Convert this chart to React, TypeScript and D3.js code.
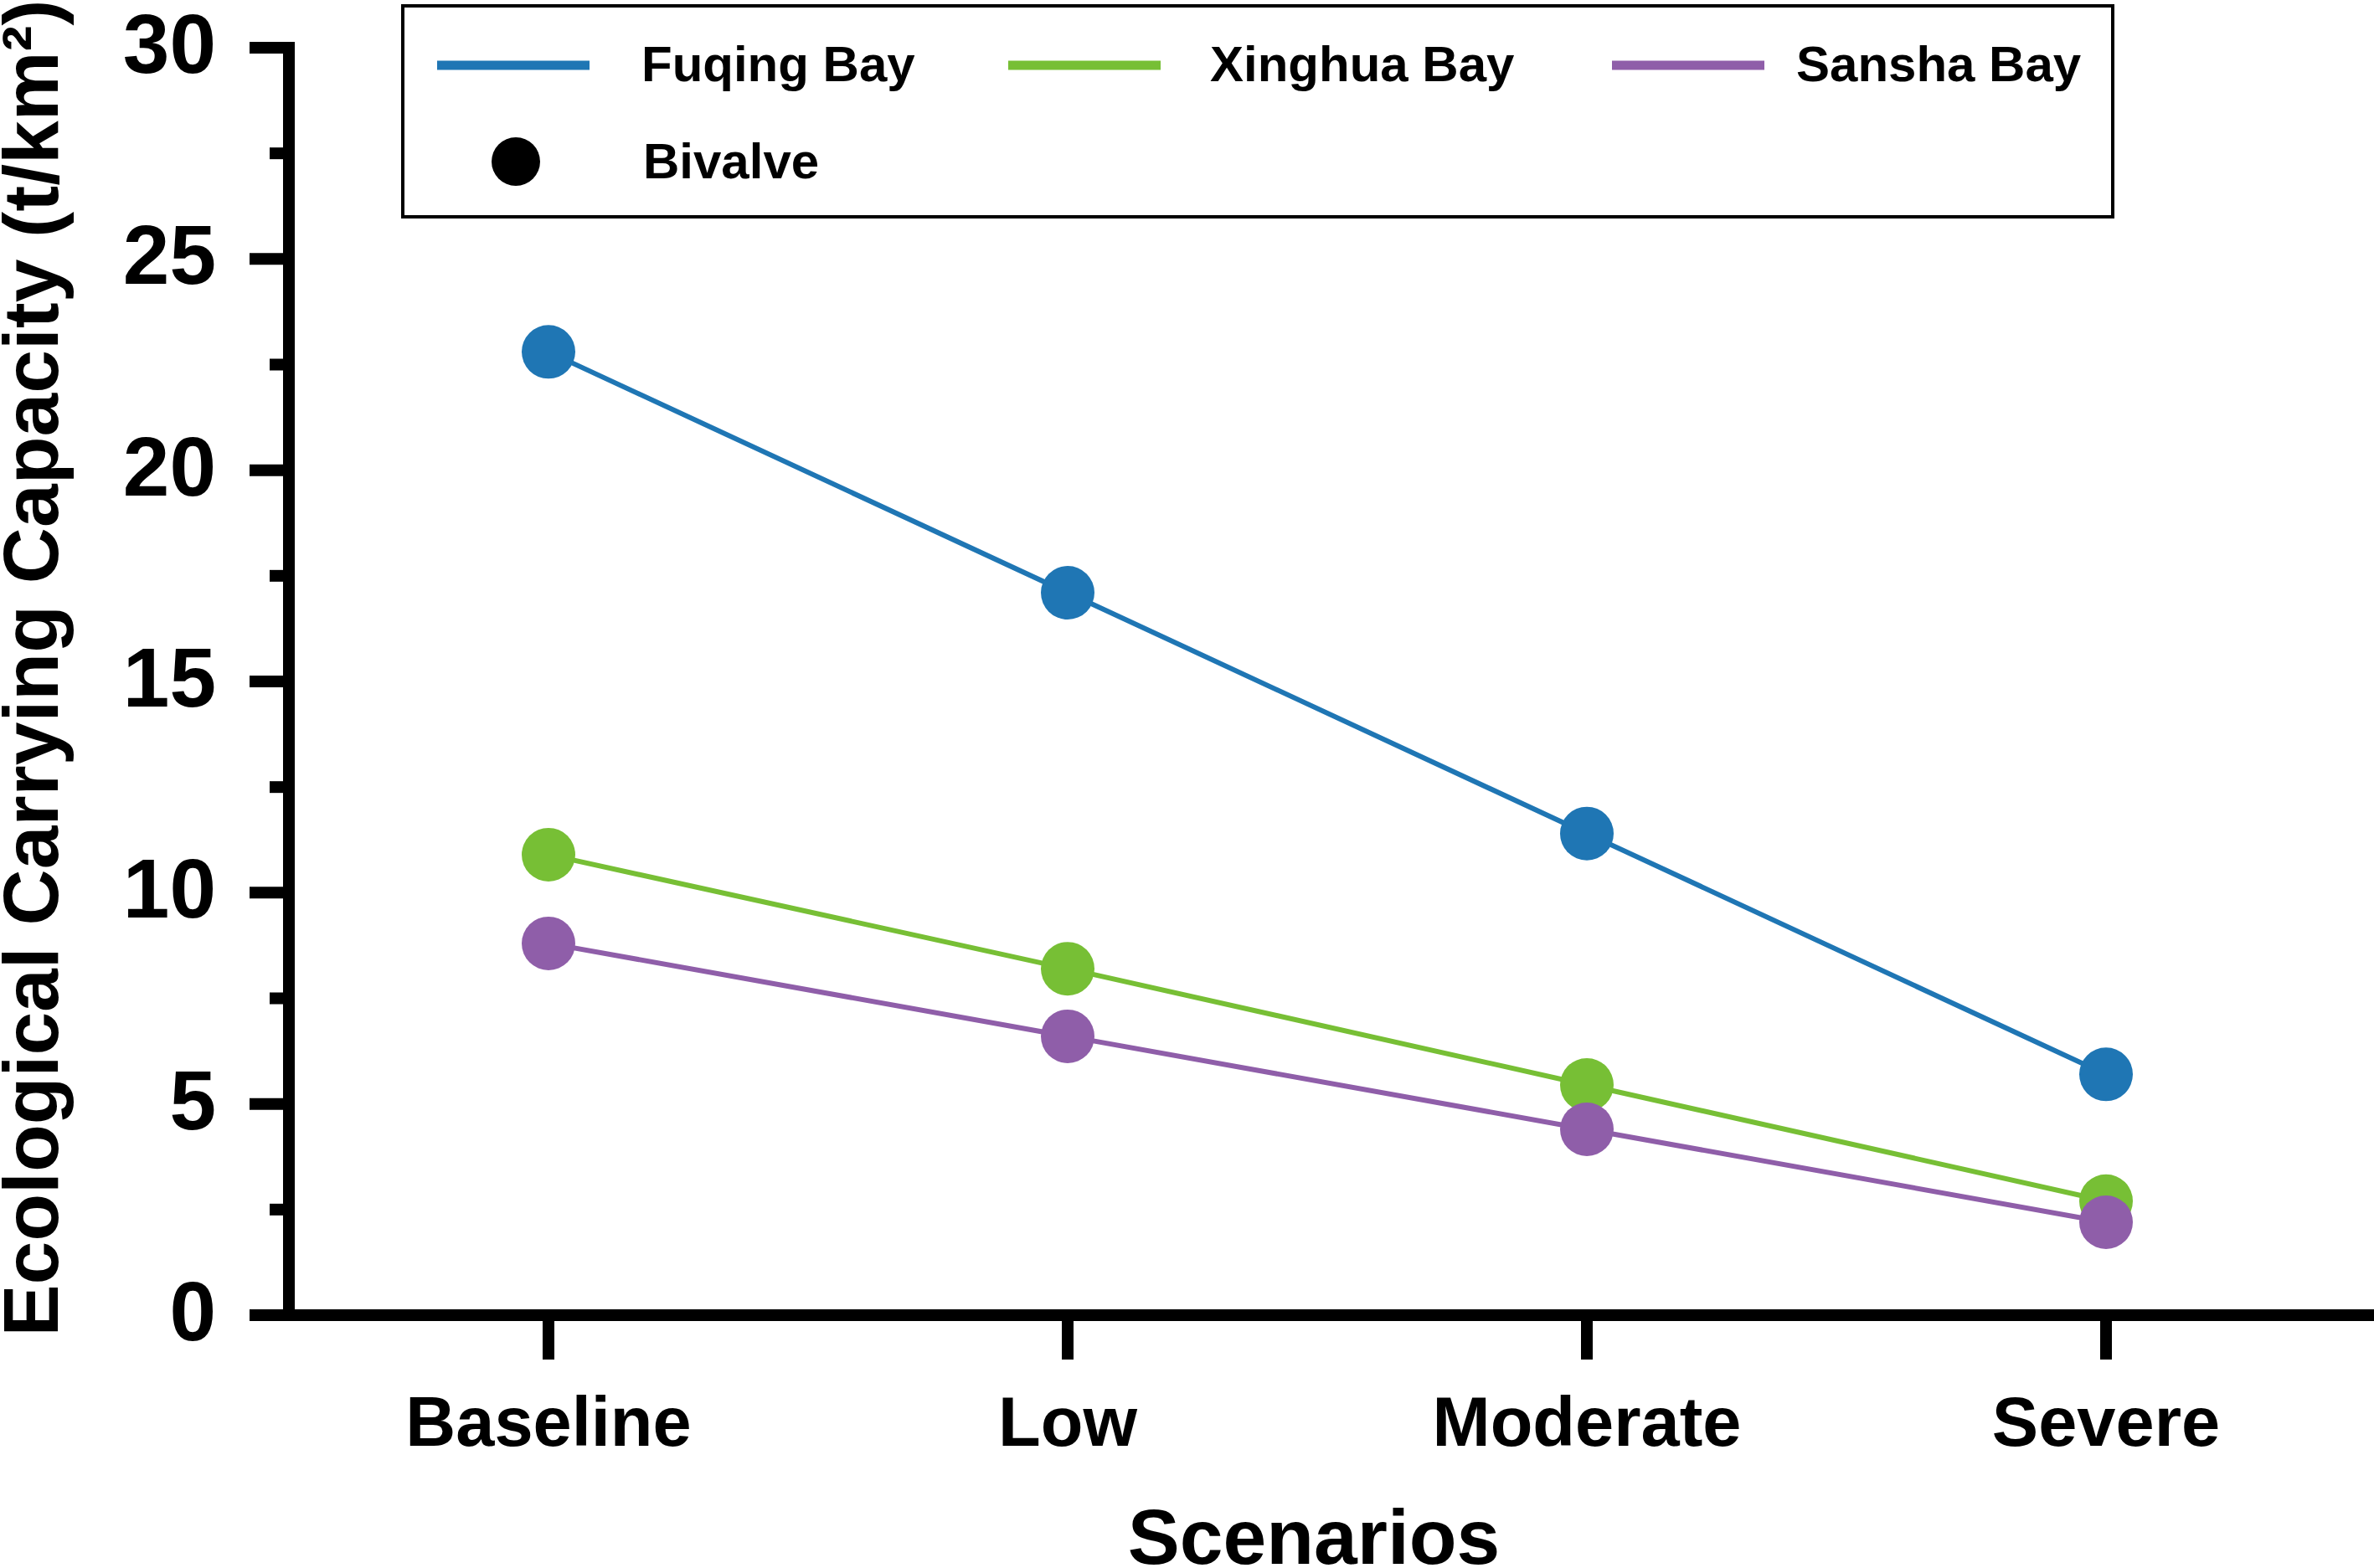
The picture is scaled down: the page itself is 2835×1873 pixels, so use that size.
import React, { useEffect } from 'react';
import * as d3 from 'd3';

const scenarios = ['Baseline', 'Low', 'Moderate', 'Severe'];
const fuqing = [22.8, 17.1, 11.4, 5.7];
const xinghua = [10.9, 8.2, 5.45, 2.7];
const sansha = [8.8, 6.6, 4.4, 2.2];
const seriesNames = ['Fuqing Bay', 'Xinghua Bay', 'Sansha Bay'];
const seriesColors = ['#1f76b4', '#77bf35', '#8f5ea9'];
const yTicks = [0, 5, 10, 15, 20, 25, 30];
const yMinorTicks = [2.5, 7.5, 12.5, 17.5, 22.5, 27.5];

const W = 2835;
const H = 1873;
const FONT = '"Liberation Sans", Arial, Helvetica, sans-serif';

export default function App() {
  useEffect(() => {
    document.body.style.margin = '0';
    document.body.style.overflow = 'hidden';
  }, []);

  const x = d3.scalePoint<string>().domain(scenarios).range([345, 2825]).padding(0.5);
  const y = d3.scaleLinear().domain([0, 30]).range([1571, 57]);
  const axisX = 345;
  const axisW = 14;

  const series = [fuqing, xinghua, sansha];
  const line = d3
    .line<number>()
    .x((_, i) => x(scenarios[i]) as number)
    .y((d) => y(d));

  // legend columns
  const legendCols = [522, 1204, 1925];
  const legendTextCols = [766, 1445, 2145];

  return (
    <svg width={W} height={H} style={{ display: 'block', background: '#fff' }} fontFamily={FONT} fontWeight="bold">
      {/* legend */}
      <rect x={481} y={7} width={2042} height={252} fill="#fff" stroke="#000" strokeWidth={4} />
      {seriesNames.map((name, i) => (
        <g key={name}>
          <line x1={legendCols[i]} x2={legendCols[i] + 182} y1={78} y2={78} stroke={seriesColors[i]} strokeWidth={11} />
          <text x={legendTextCols[i]} y={97} fontSize={60}>
            {name}
          </text>
        </g>
      ))}
      <circle cx={616} cy={193} r={29} fill="#000" />
      <text x={768} y={213} fontSize={60}>
        Bivalve
      </text>

      {/* y axis */}
      <line x1={axisX} x2={axisX} y1={y(30) - axisW / 2} y2={y(0) + axisW / 2} stroke="#000" strokeWidth={axisW} />
      {yTicks.map((t) => (
        <g key={t}>
          <line x1={298} x2={axisX} y1={y(t)} y2={y(t)} stroke="#000" strokeWidth={axisW} />
          <text x={258} y={y(t) + 30} fontSize={100} textAnchor="end">
            {t}
          </text>
        </g>
      ))}
      {yMinorTicks.map((t) => (
        <line key={t} x1={322} x2={axisX} y1={y(t)} y2={y(t)} stroke="#000" strokeWidth={axisW} />
      ))}

      {/* x axis */}
      <line x1={298} x2={W} y1={y(0)} y2={y(0)} stroke="#000" strokeWidth={axisW} />
      {scenarios.map((s) => (
        <g key={s}>
          <line x1={x(s)} x2={x(s)} y1={y(0)} y2={1624} stroke="#000" strokeWidth={axisW} />
          <text x={x(s)} y={1727} fontSize={83} textAnchor="middle">
            {s}
          </text>
        </g>
      ))}

      {/* titles */}
      <text x={1569} y={1868} fontSize={93} textAnchor="middle">
        Scenarios
      </text>
      <text transform={`translate(69,798) rotate(-90)`} fontSize={93} textAnchor="middle">
        Ecological Carrying Capacity (t/km²)
      </text>

      {/* series */}
      {series.map((vals, si) => (
        <g key={seriesNames[si]}>
          <path d={line(vals) || ''} fill="none" stroke={seriesColors[si]} strokeWidth={6} />
          {vals.map((v, i) => (
            <circle key={i} cx={x(scenarios[i])} cy={y(v)} r={32} fill={seriesColors[si]} />
          ))}
        </g>
      ))}
    </svg>
  );
}
